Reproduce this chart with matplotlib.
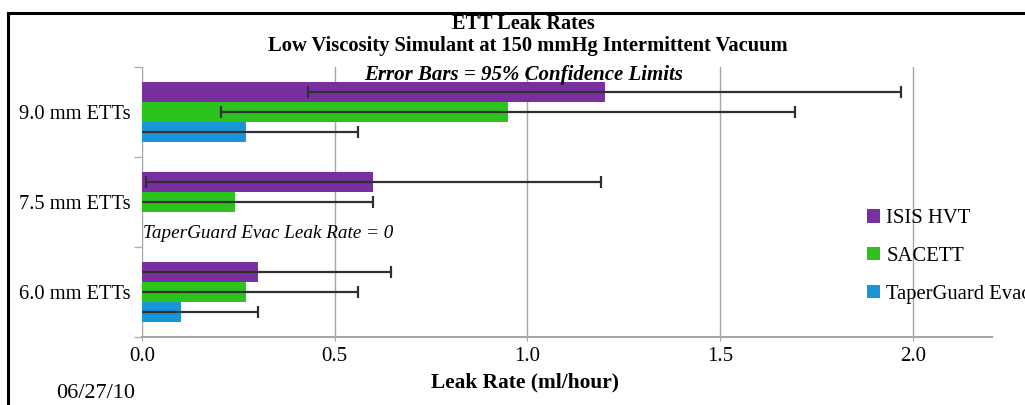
import matplotlib
matplotlib.use("Agg")
import matplotlib.pyplot as plt
from matplotlib.lines import Line2D
import numpy as np

categories = ['6.0 mm ETTs', '7.5 mm ETTs', '9.0 mm ETTs']
series = ['ISIS HVT', 'SACETT', 'TaperGuard Evac']
isis = [0.30, 0.60, 1.20]
isis_err = [0.345, 0.59, 0.77]
sacett = [0.27, 0.24, 0.95]
sacett_err = [0.29, 0.36, 0.745]
taper = [0.10, 0.0, 0.27]
taper_err = [0.20, 0.0, 0.29]
xticks = [0.0, 0.5, 1.0, 1.5, 2.0]

colors = ['#7830a0', '#2dc31e', '#1996d7']
plt.rcParams['font.family'] = ['Liberation Serif', 'DejaVu Serif']

fig = plt.figure(figsize=(10.25, 4.05), dpi=100)
ax = fig.add_axes([142 / 1025, 1 - 337 / 405, (992 - 142) / 1025, (337 - 67) / 405])

y = np.arange(len(categories))
h = 2 / 9
vals = [isis, sacett, taper]
errs = [isis_err, sacett_err, taper_err]
offsets = [h, 0, -h]
for v, e, off, c, name in zip(vals, errs, offsets, colors, series):
    ax.barh(y + off, v, height=h, color=c, label=name, zorder=2)
    v = np.array(v)
    e = np.array(e)
    m = e > 0
    ax.errorbar(v[m], (y + off)[m], xerr=e[m], fmt='none', ecolor='#303030',
                elinewidth=1.6, capsize=4, capthick=1.6, zorder=3)

ax.set_xlim(0, 2.205)
ax.set_ylim(-0.5, 2.5)
ax.set_xticks(xticks)
ax.set_xticklabels(['%.1f' % t for t in xticks], fontsize=15)
ax.set_yticks(y)
ax.set_yticklabels(categories, fontsize=14.8)
ax.set_yticks([-0.5, 0.5, 1.5, 2.5], minor=True)
ax.tick_params(axis='y', which='major', length=0, pad=8)
ax.tick_params(axis='y', which='minor', length=6, color='#b0b0b0', width=1)
ax.tick_params(axis='x', length=3, color='#a6a6a6', pad=4)
ax.grid(axis='x', color='#a6a6a6', linewidth=1, zorder=0)
ax.set_axisbelow(True)
for s in ['top', 'right', 'left']:
    ax.spines[s].set_visible(False)
ax.spines['bottom'].set_color('#a6a6a6')
ax.spines['bottom'].set_linewidth(1.5)

ax.text(0.003, 0.655, 'TaperGuard Evac Leak Rate = 0', style='italic', fontsize=13.8,
        va='center', ha='left')

fig.text(523 / 1025, 1 - 24 / 405, 'ETT Leak Rates', ha='center', va='center',
         fontsize=14.6, fontweight='bold')
fig.text(528 / 1025, 1 - 46 / 405, 'Low Viscosity Simulant at 150 mmHg Intermittent Vacuum',
         ha='center', va='center', fontsize=14.8, fontweight='bold')
fig.text(524 / 1025, 1 - 75 / 405, 'Error Bars = 95% Confidence Limits', ha='center',
         va='center', fontsize=15, fontweight='bold', style='italic')
fig.text(525 / 1025, 1 - 382 / 405, 'Leak Rate (ml/hour)', ha='center', va='center',
         fontsize=15.4, fontweight='bold')
fig.text(96 / 1025, 1 - 393 / 405, '06/27/10', ha='center', va='center', fontsize=16)

# legend runs past the right edge, as in the original
ax.legend(loc='upper left', bbox_to_anchor=(867 / 1025, 1 - 209 / 405),
          bbox_transform=fig.transFigure, frameon=False, fontsize=14.9,
          handlelength=0.63, handleheight=0.63, handletextpad=0.3,
          labelspacing=0.91, borderpad=0, borderaxespad=0)

# outer chart border
fig.add_artist(Line2D([8 / 1025, 8 / 1025], [0, 1 - 13 / 405], transform=fig.transFigure,
                      color='black', linewidth=2.2))
fig.add_artist(Line2D([8 / 1025, 1], [1 - 13 / 405, 1 - 13 / 405], transform=fig.transFigure,
                      color='black', linewidth=2.2))

fig.savefig('out.png', dpi=100)
